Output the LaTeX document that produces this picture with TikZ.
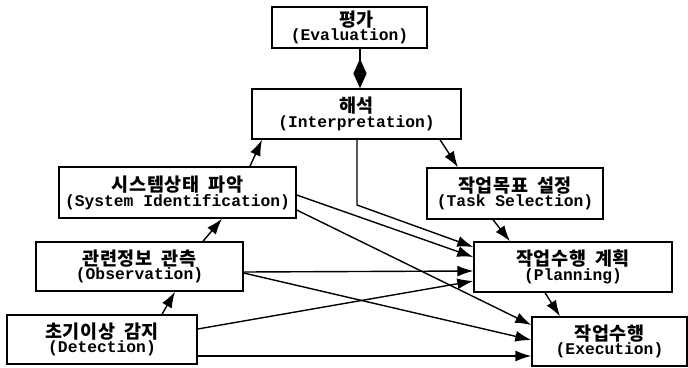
\documentclass[tikz,border=0pt]{standalone}
\usepackage{fontspec}
\newfontfamily\kr{Noto Sans CJK KR}
\newfontfamily\mono{Liberation Mono}
\usetikzlibrary{arrows.meta}
\newcommand{\hk}{\kern0.6pt}
\newcommand{\hw}{\hspace{9pt}}
\newcommand{\bx}[2]{{\kr\bfseries\fontsize{18.5}{20}\selectfont #1}\\{\mono\bfseries\fontsize{16.3}{18}\selectfont #2}}
\begin{document}
\begin{tikzpicture}[x=1pt,y=-1pt,
  box/.style={draw, line width=1.4pt, inner sep=0pt, align=center},
  conn/.style={line width=1.4pt, -{Latex[length=16pt,width=11pt]}},
  dtip/.style={line width=1.4pt, -{Triangle[length=15pt,width=13pt]}}]
\useasboundingbox (0,0) rectangle (688,367);
\fill[white] (0,0) rectangle (688,367);
\node[box, minimum width=155pt, minimum height=41pt] (pg) at (349.5,27.5) {\hspace*{14pt}\bx{평\hk 가}{(Evaluation)}};
\node[box, minimum width=209pt, minimum height=50pt] (hs) at (356.5,114) {\bx{해\hk 석}{(Interpretation)}};
\node[box, minimum width=237pt, minimum height=51pt] (sy) at (177.5,192.5) {\bx{시\hk 스\hk 템\hk 상\hk 태\hw 파\hk 악}{(System Identification)}};
\node[box, minimum width=207pt, minimum height=49pt] (ob) at (139.5,266.5) {\bx{관\hk 련\hk 정\hk 보\hw 관\hk 측}{(Observation)}};
\node[box, minimum width=190pt, minimum height=49pt] (dt) at (102,339.5) {\bx{초\hk 기\hk 이\hk 상\hw 감\hk 지}{(Detection)}};
\node[box, minimum width=176pt, minimum height=51pt] (tm) at (515,193.5) {\bx{작\hk 업\hk 목\hk 표\hw 설\hk 정}{(Task Selection)}};
\node[box, minimum width=198pt, minimum height=50pt] (pl) at (573,267) {\bx{작\hk 업\hk 수\hk 행\hw 계\hk 획}{(Planning)}};
\node[box, minimum width=155pt, minimum height=49pt] (ex) at (609.5,341.5) {\bx{작\hk 업\hk 수\hk 행}{(Execution)}};
% evaluation <-> interpretation (diamond)
\coordinate (dm) at (360,73.5);
\draw[line width=1.4pt] ([xshift=10.5pt]pg.south) -- ++(0,12);
\draw[dtip] (dm) -- (dm |- hs.north);
\draw[dtip, shorten >=10pt] (dm) -- (dm |- pg.south);
% connectors
\draw[conn] ([xshift=72.5pt]sy.north) -- ([xshift=-94.5pt]hs.south);
\draw[conn] ([xshift=83.5pt]hs.south) -- ([xshift=-57pt]tm.north);
\coordinate (bend) at (357,205);
\draw[conn] ([xshift=0.5pt]hs.south) -- (bend) -- ([yshift=20pt]pl.west);
\draw[conn] ([yshift=-2.5pt]sy.east) -- ([yshift=10pt]pl.west);
\draw[conn] ([yshift=-17.5pt]sy.east) -- ([yshift=16.5pt]ex.west);
\draw[conn] ([yshift=-5.5pt]ob.east) -- ([yshift=-4pt]pl.west);
\draw[conn] ([yshift=-6.5pt]ob.east) -- ([yshift=1.5pt]ex.west);
\draw[conn] ([xshift=60pt]dt.north) -- ([xshift=35.5pt]ob.south);
\draw[conn] ([xshift=63.5pt]ob.north) -- ([xshift=44.5pt]sy.south);
\draw[conn] ([yshift=10.5pt]dt.east) -- ([yshift=-14pt]pl.west);
\draw[conn] ([yshift=-16.5pt]dt.east) -- ([yshift=-14.5pt]ex.west);
\draw[conn] ([xshift=-28pt]pl.south) -- ([xshift=-49.5pt]ex.north);
\draw[conn] ([xshift=-22pt]tm.south) -- ([xshift=-63pt]pl.north);
\end{tikzpicture}
\end{document}
